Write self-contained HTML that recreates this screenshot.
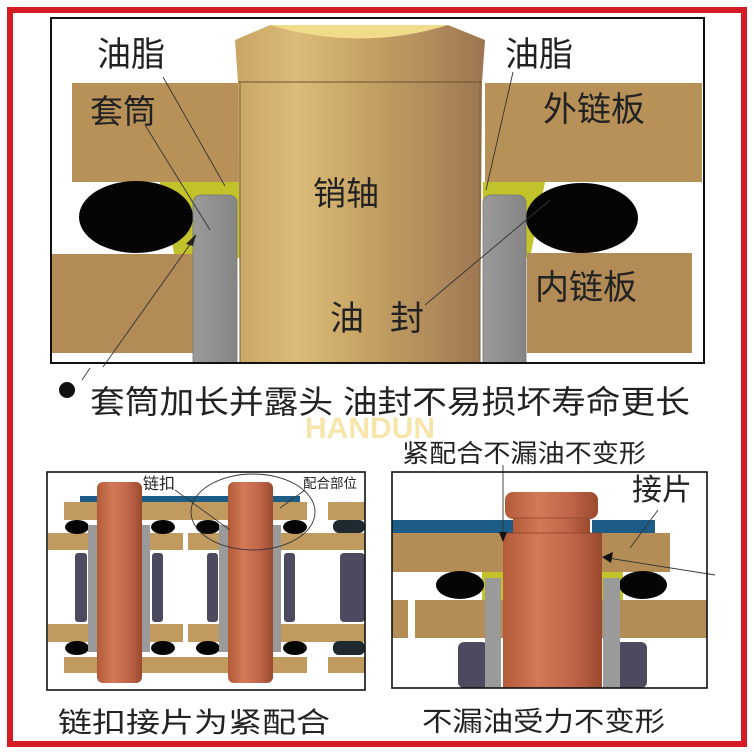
<!DOCTYPE html>
<html><head><meta charset="utf-8"><style>
html,body{margin:0;padding:0;background:#fff}
svg{display:block}
text{font-family:"Liberation Sans","Noto Sans CJK SC",sans-serif;fill:#222}
</style></head><body>
<svg width="754" height="754" viewBox="0 0 754 754" xmlns="http://www.w3.org/2000/svg">
<defs>
<linearGradient id="gold" x1="0" x2="1" y1="0" y2="0">
<stop offset="0" stop-color="#c9a564"/><stop offset="0.25" stop-color="#dcbc78"/><stop offset="0.55" stop-color="#c3a062"/><stop offset="0.8" stop-color="#b08a5c"/><stop offset="1" stop-color="#9c7450"/>
</linearGradient>
<linearGradient id="cop" x1="0" x2="1" y1="0" y2="0">
<stop offset="0" stop-color="#b35a38"/><stop offset="0.35" stop-color="#d27a58"/><stop offset="0.7" stop-color="#c0654a"/><stop offset="1" stop-color="#9a4a30"/>
</linearGradient>
<linearGradient id="gray" x1="0" x2="1"><stop offset="0" stop-color="#9a9a9a"/><stop offset="1" stop-color="#858585"/></linearGradient>
<clipPath id="tp"><rect x="51" y="18" width="653" height="345"/></clipPath>
</defs>
<rect width="754" height="754" fill="#fff"/>
<rect x="10" y="10" width="734" height="734" fill="none" stroke="#d51b24" stroke-width="6"/>

<!-- top panel -->
<g clip-path="url(#tp)">
<rect x="51" y="18" width="653" height="345" fill="#fff"/>
<polygon points="160,182 240,182 240,258 175,258" fill="#c2c22a"/>
<polygon points="483,182 545,182 530,258 483,258" fill="#c2c22a"/>
<rect x="72" y="83" width="168" height="99" fill="#b89159"/>
<rect x="485" y="83" width="217" height="99" fill="#b89159"/>
<rect x="52" y="254" width="141" height="99" fill="#b38b56"/>
<rect x="527" y="253" width="165" height="100" fill="#b38b56"/>
<ellipse cx="136" cy="217" rx="57" ry="36" fill="#050303"/>
<ellipse cx="582" cy="218" rx="56" ry="35" fill="#050303"/>
<rect x="193" y="195" width="44" height="185" rx="8" fill="url(#gray)" stroke="#777" stroke-width="0.8"/>
<rect x="483" y="195" width="43" height="185" rx="8" fill="url(#gray)" stroke="#777" stroke-width="0.8"/>
<path d="M270,25 L448,25 L485,40 L482,82 L480,363 L240,363 L238,82 L235,40 Z" fill="url(#gold)"/>
<path d="M270,25 L448,25 Q360,52 270,25 Z" fill="#f0dc8a"/>
<line x1="238" y1="82" x2="482" y2="82" stroke="#6a5030" stroke-width="1"/>
<line x1="240" y1="82" x2="240" y2="363" stroke="#7a6a3a" stroke-width="1"/>
<line x1="480" y1="82" x2="480" y2="363" stroke="#7a6a3a" stroke-width="1"/>
</g>
<rect x="51" y="18" width="653" height="345" fill="none" stroke="#111" stroke-width="2"/>

<g stroke="#333" stroke-width="0.9" fill="none">
<line x1="163" y1="77" x2="225" y2="186"/>
<line x1="145" y1="125" x2="210" y2="230"/>
<line x1="103" y1="367" x2="196" y2="236"/>
<line x1="90" y1="368" x2="82" y2="380"/>
<line x1="513" y1="72" x2="486" y2="190"/>
<line x1="425" y1="305" x2="550" y2="200"/>
</g>
<polygon points="196,234 186,244 193,246" fill="#222"/>

<text x="97" y="66" font-size="34">油脂</text>
<text x="505" y="66" font-size="34">油脂</text>
<text x="90" y="123" font-size="33">套筒</text>
<text x="543" y="121" font-size="34">外链板</text>
<text x="313" y="205" font-size="33">销轴</text>
<text x="535" y="299" font-size="34">内链板</text>
<text x="330" y="330" font-size="34">油</text>
<text x="390" y="330" font-size="34">封</text>

<circle cx="67" cy="390" r="8" fill="#111"/>
<text x="90" y="413" font-size="32" textLength="600" lengthAdjust="spacingAndGlyphs">套筒加长并露头  油封不易损坏寿命更长</text>
<text x="305" y="438" font-size="30" font-weight="bold" style="fill:#f3dc8a" opacity="0.7">HANDUN</text>

<text x="402" y="462" font-size="25" textLength="244" lengthAdjust="spacingAndGlyphs">紧配合不漏油不变形</text>

<g>
<rect x="47" y="472" width="318" height="218" fill="#fff"/>
<rect x="80" y="496" width="220" height="6" fill="#1d5c86"/>
<rect x="64" y="502" width="243" height="18" fill="#c09a5e"/>
<rect x="328" y="502" width="37" height="18" fill="#c09a5e"/>
<rect x="48" y="533" width="135" height="17" fill="#c09a5e"/>
<rect x="188" y="533" width="177" height="17" fill="#c09a5e"/>
<rect x="48" y="624" width="135" height="18" fill="#c09a5e"/>
<rect x="188" y="624" width="177" height="18" fill="#c09a5e"/>
<rect x="64" y="657" width="243" height="16" fill="#c09a5e"/>
<rect x="328" y="657" width="37" height="16" fill="#c09a5e"/>
<g fill="#4c4a5e">
<rect x="75" y="553" width="12" height="69" rx="3"/><rect x="152" y="553" width="11" height="69" rx="3"/>
<rect x="207" y="553" width="11" height="69" rx="3"/><rect x="284" y="553" width="11" height="69" rx="3"/>
<rect x="340" y="553" width="25" height="69" rx="4"/>
</g>
<g fill="#050505">
<ellipse cx="77" cy="527" rx="12" ry="7"/><ellipse cx="163" cy="527" rx="12" ry="7"/><ellipse cx="208" cy="527" rx="12" ry="7"/><ellipse cx="295" cy="527" rx="12" ry="7"/>
<ellipse cx="77" cy="648" rx="12" ry="7"/><ellipse cx="163" cy="648" rx="12" ry="7"/><ellipse cx="208" cy="648" rx="12" ry="7"/><ellipse cx="295" cy="648" rx="12" ry="7"/>
</g>
<rect x="333" y="520" width="32" height="13" rx="6" fill="#1f2a30"/>
<rect x="333" y="641" width="32" height="14" rx="6" fill="#1f2a30"/>
<g fill="#9a9a9a">
<rect x="88" y="525" width="9" height="127"/><rect x="142" y="525" width="8" height="127"/>
<rect x="219" y="525" width="9" height="127"/><rect x="273" y="525" width="8" height="127"/>
</g>
<rect x="97" y="482" width="45" height="201" rx="6" fill="url(#cop)"/>
<rect x="228" y="482" width="45" height="201" rx="6" fill="url(#cop)"/>
<ellipse cx="253" cy="512" rx="62" ry="38" fill="none" stroke="#333" stroke-width="0.9"/>
<line x1="175" y1="490" x2="230" y2="530" stroke="#333" stroke-width="0.8"/>
<line x1="305" y1="490" x2="280" y2="508" stroke="#333" stroke-width="0.8"/>
<text x="143" y="489" font-size="16">链扣</text>
<text x="303" y="488" font-size="13.5">配合部位</text>
<rect x="47" y="472" width="318" height="218" fill="none" stroke="#111" stroke-width="1.6"/>
</g>
<text x="58" y="732" font-size="28" textLength="272" lengthAdjust="spacingAndGlyphs">链扣接片为紧配合</text>

<g>
<rect x="392" y="472" width="315" height="216" fill="#fff"/>
<rect x="392" y="520" width="121" height="13" fill="#1d5c86"/>
<rect x="592" y="520" width="63" height="13" fill="#1d5c86"/>
<rect x="392" y="533" width="278" height="39" fill="#b48d56"/>
<rect x="482" y="572" width="23" height="28" fill="#c2c22a"/>
<rect x="600" y="572" width="23" height="28" fill="#c2c22a"/>
<rect x="392" y="600" width="16" height="38" fill="#b48d56"/>
<rect x="415" y="600" width="292" height="38" fill="#b48d56"/>
<ellipse cx="460" cy="585" rx="24" ry="14" fill="#050505"/>
<ellipse cx="643" cy="585" rx="24" ry="14" fill="#050505"/>
<rect x="458" y="642" width="30" height="46" rx="6" fill="#4c4a5e"/>
<rect x="616" y="642" width="31" height="46" rx="6" fill="#4c4a5e"/>
<rect x="485" y="578" width="16" height="110" fill="#9a9a9a"/>
<rect x="603" y="578" width="17" height="110" fill="#9a9a9a"/>
<rect x="513" y="515" width="77" height="20" fill="url(#cop)"/>
<rect x="505" y="492" width="93" height="27" rx="8" fill="url(#cop)"/>
<line x1="513" y1="518" x2="590" y2="518" stroke="#8a4028" stroke-width="0.8"/>
<rect x="503" y="533" width="99" height="155" fill="url(#cop)"/>
<line x1="503" y1="533" x2="602" y2="533" stroke="#8a4028" stroke-width="0.8"/>
<g stroke="#333" stroke-width="0.9">
<line x1="503" y1="465" x2="503" y2="535"/>
<line x1="658" y1="510" x2="630" y2="548"/>
<line x1="715" y1="575" x2="608" y2="558"/>
</g>
<polygon points="503,542 499,532 507,532" fill="#111"/>
<polygon points="602,557 613,552 611,563" fill="#111"/>
<text x="632" y="500" font-size="30">接片</text>
<rect x="392" y="472" width="315" height="216" fill="none" stroke="#111" stroke-width="1.6"/>
</g>
<text x="422" y="731" font-size="27" textLength="243" lengthAdjust="spacingAndGlyphs">不漏油受力不变形</text>
</svg>
</body></html>
